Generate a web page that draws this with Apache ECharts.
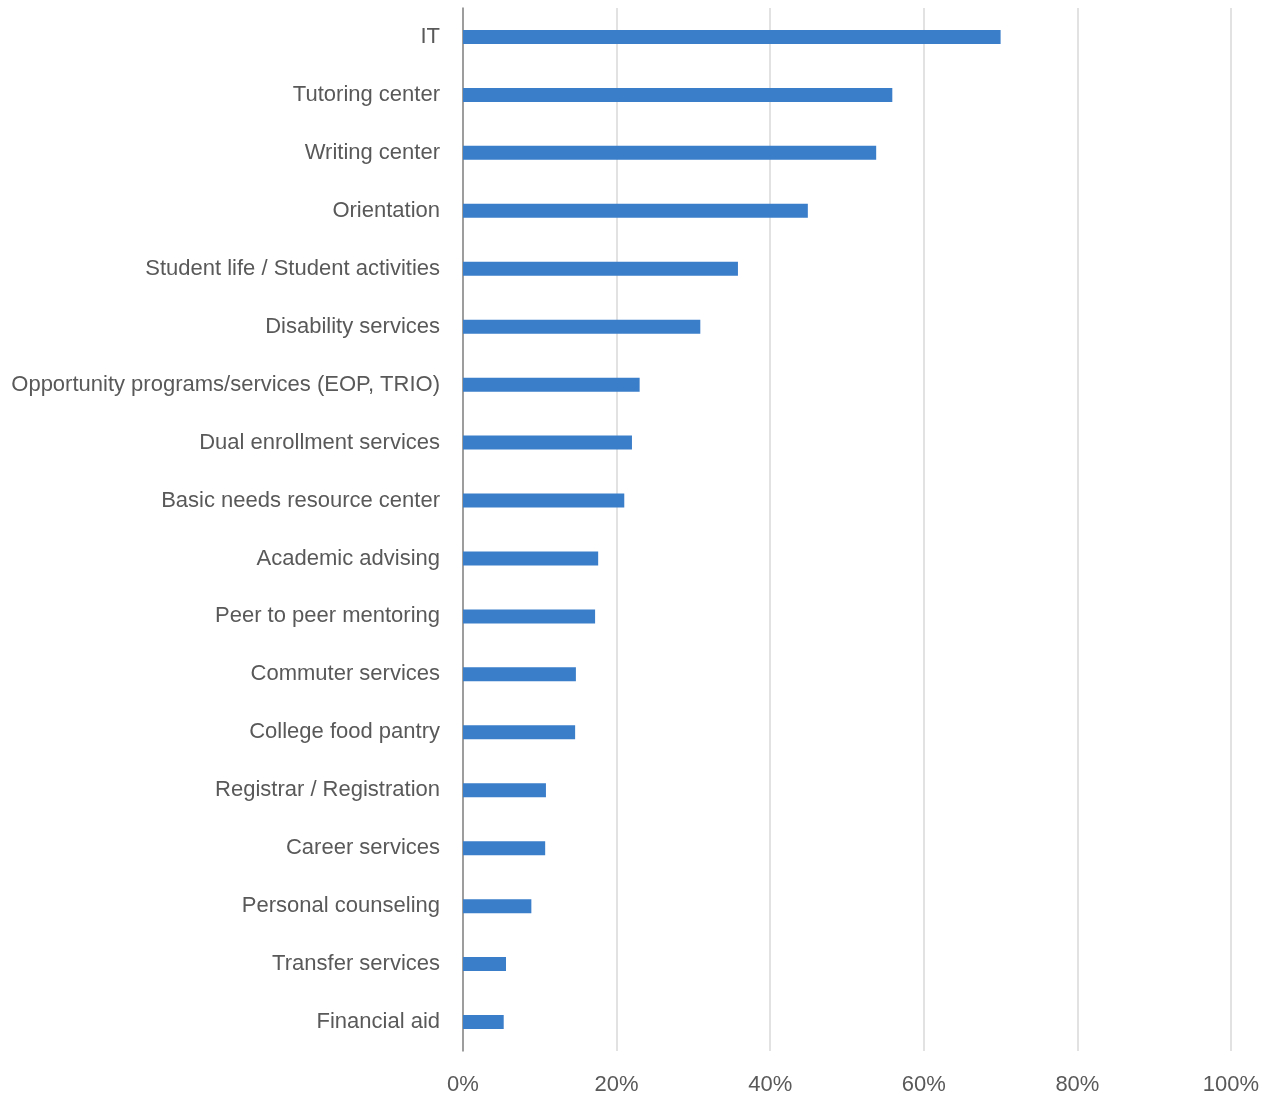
<!DOCTYPE html>
<html>
<head>
<meta charset="utf-8">
<title>Services used</title>
<script src="https://cdn.jsdelivr.net/npm/echarts@6/dist/echarts.min.js"></script>
<style>
  html, body { margin: 0; padding: 0; background: #ffffff; }
  #chart { width: 1270px; height: 1095px; }
</style>
</head>
<body>
<div id="chart"></div>
<script>
// Services, listed top to bottom
const categories = [
  'IT',
  'Tutoring center',
  'Writing center',
  'Orientation',
  'Student life / Student activities',
  'Disability services',
  'Opportunity programs/services (EOP, TRIO)',
  'Dual enrollment services',
  'Basic needs resource center',
  'Academic advising',
  'Peer to peer mentoring',
  'Commuter services',
  'College food pantry',
  'Registrar / Registration',
  'Career services',
  'Personal counseling',
  'Transfer services',
  'Financial aid'
];

// Share of respondents (%)
const shares = [70, 55.9, 53.8, 44.9, 35.8, 30.9, 23.0, 22.0, 21.0, 17.6, 17.2, 14.7, 14.6, 10.8, 10.7, 8.9, 5.6, 5.3];

// X axis ticks (%)
const xTicks = [0, 20, 40, 60, 80, 100];

const FONT = '"Liberation Sans Narrow", "Arial Narrow", "Liberation Sans", sans-serif';

const chart = echarts.init(document.getElementById('chart'));
chart.setOption({
  animation: false,
  grid: {
    left: 463, right: 39, top: 8, bottom: 44,
    containLabel: false,
    outerBoundsMode: 'none'
  },
  xAxis: {
    type: 'value',
    min: xTicks[0],
    max: xTicks[xTicks.length - 1],
    interval: xTicks[1] - xTicks[0],
    axisLine: { show: false },
    axisTick: { show: false },
    splitLine: { show: true, lineStyle: { color: '#d9d9d9', width: 1.5 } },
    axisLabel: {
      formatter: v => v + '%',
      color: '#595959',
      fontFamily: FONT,
      fontSize: 22,
      margin: 23
    }
  },
  yAxis: {
    type: 'category',
    data: categories,
    inverse: true,
    axisLine: { show: true, lineStyle: { color: '#868686', width: 1.5 } },
    axisTick: { show: false },
    axisLabel: {
      color: '#595959',
      fontFamily: FONT,
      fontSize: 22,
      margin: 23,
      padding: [3, 0, 0, 0]
    }
  },
  series: [{
    type: 'bar',
    data: shares,
    barWidth: 14,
    itemStyle: { color: '#3a7dc9' }
  }]
});
</script>
</body>
</html>
